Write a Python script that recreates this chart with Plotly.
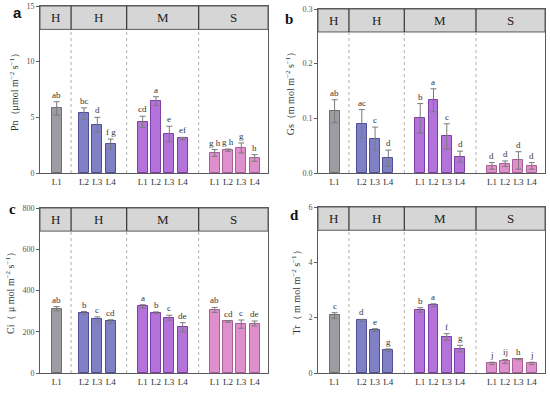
import plotly.graph_objects as go

# ---------------- data ----------------
levels = ["L1", "L2", "L3", "L4", "L1", "L2", "L3", "L4", "L1", "L2", "L3", "L4"]
groups = ["CK", "H", "H", "H", "M", "M", "M", "M", "S", "S", "S", "S"]
header_labels = ["H", "H", "M", "S"]

pn = [5.8, 5.35, 4.35, 2.6, 4.6, 6.45, 3.5, 3.1, 1.8, 2.05, 2.25, 1.35]
pn_err = [0.6, 0.5, 0.65, 0.45, 0.5, 0.4, 0.7, 0.1, 0.3, 0.1, 0.45, 0.3]
pn_sig = ["ab", "bc", "d", "f g", "cd", "a", "e", "ef", "g h", "g h", "g", "h"]

gs = [0.113, 0.090, 0.063, 0.027, 0.100, 0.133, 0.067, 0.030, 0.013, 0.017, 0.023, 0.013]
gs_err = [0.021, 0.026, 0.021, 0.015, 0.027, 0.021, 0.023, 0.010, 0.006, 0.005, 0.016, 0.006]
gs_sig = ["ab", "ac", "c", "d", "b", "a", "c", "d", "d", "d", "d", "d"]

ci = [312, 292, 260, 250, 323, 292, 268, 222, 306, 250, 237, 240]
ci_err = [10, 6, 12, 8, 8, 4, 12, 22, 12, 4, 20, 12]
ci_sig = ["ab", "b", "c", "cd", "a", "b", "c", "de", "ab", "cd", "c", "de"]

tr = [2.08, 1.90, 1.55, 0.82, 2.28, 2.45, 1.30, 0.88, 0.35, 0.42, 0.50, 0.35]
tr_err = [0.10, 0.04, 0.05, 0.05, 0.08, 0.05, 0.12, 0.12, 0.04, 0.07, 0.02, 0.04]
tr_sig = ["c", "d", "e", "g", "b", "a", "f", "g", "j", "ij", "h", "j"]

# ---------------- styling / layout ----------------
fill_col = {"CK": "#9c9ca2", "H": "#7f80c6", "M": "#b373da", "S": "#df90cc"}
line_col = {"CK": "#6e6e72", "H": "#4e4f96", "M": "#7d3fa3", "S": "#a85f97"}

# x positions of bars (layout): groups separated by gaps
pos = []
x = 1.25
gap_after = {0: 2.05, 3: 2.4, 7: 2.4}
for i in range(len(levels)):
    pos.append(x)
    x += gap_after.get(i, 1.0)
X_MAX = 17.1
dividers = [2.33, 6.5, 11.9]
bounds = [0] + dividers + [X_MAX]
HDR = 0.86

panels = [
    dict(v=pn, e=pn_err, s=pn_sig, rng=[0, 15], tv=[0, 5, 10, 15], tt=["0", "5", "10", "15"],
         title="Pn（μmol m<sup>−2</sup> s<sup>−1</sup>）", dx=[40, 268], dy=[6, 173],
         lab="a", lxy=(17, 12), lfont="Liberation Sans"),
    dict(v=gs, e=gs_err, s=gs_sig, rng=[0, 0.3], tv=[0, 0.1, 0.2, 0.3], tt=["0.0", "0.1", "0.2", "0.3"],
         title="Gs（m mol m<sup>−2</sup> s<sup>−1</sup>）", dx=[318, 545], dy=[9, 173],
         lab="b", lxy=(289, 19), lfont="Liberation Serif"),
    dict(v=ci, e=ci_err, s=ci_sig, rng=[0, 800], tv=[0, 200, 400, 600, 800],
         tt=["0", "200", "400", "600", "800"],
         title="Ci（ μ mol m<sup>−2</sup> s<sup>−1</sup>）", dx=[40, 268], dy=[208, 373],
         lab="c", lxy=(12, 209), lfont="Liberation Serif"),
    dict(v=tr, e=tr_err, s=tr_sig, rng=[0, 6], tv=[0, 2, 4, 6], tt=["0", "2", "4", "6"],
         title="Tr（ m mol m<sup>−2</sup> s<sup>−1</sup>）", dx=[318, 545], dy=[207, 373],
         lab="d", lxy=(294, 215), lfont="Liberation Serif"),
]

W, H = 550, 395
SERIF = "Liberation Serif, Times New Roman, serif"
AX = "#5a5a5a"

fig = go.Figure()
annotations = []
shapes = []
layout = {}

for k, p in enumerate(panels):
    n = "" if k == 0 else str(k + 1)
    xa, ya = "x" + n, "y" + n
    fig.add_trace(go.Bar(
        x=pos, y=p["v"], width=0.75,
        marker=dict(color=[fill_col[g] for g in groups],
                    line=dict(color=[line_col[g] for g in groups], width=1)),
        error_y=dict(type="data", array=p["e"], color="#7a7a7a", thickness=1, width=3),
        xaxis=xa, yaxis=ya, showlegend=False, hoverinfo="skip"))
    layout["xaxis" + n] = dict(
        domain=[p["dx"][0] / W, p["dx"][1] / W], range=[0, X_MAX], anchor=ya,
        tickvals=pos, ticktext=levels, ticks="", showgrid=False, zeroline=False,
        showline=True, mirror=True, linecolor=AX, linewidth=1, automargin=False,
        tickfont=dict(family=SERIF, size=9, color="#333"), fixedrange=True)
    layout["yaxis" + n] = dict(
        domain=[1 - p["dy"][1] / H, 1 - p["dy"][0] / H], range=p["rng"], anchor=xa,
        tickvals=p["tv"], ticktext=p["tt"], ticks="outside", ticklen=3, tickcolor=AX,
        showgrid=False, zeroline=False, showline=True, mirror=True, linecolor=AX, linewidth=1,
        automargin=False,
        tickfont=dict(family=SERIF, size=8, color="#555"),
        title=dict(text=p["title"], font=dict(family=SERIF, size=10, color="#333"), standoff=5),
        fixedrange=True)
    # header strip
    shapes.append(dict(type="rect", xref=xa + " domain", yref=ya + " domain",
                       x0=0, x1=1, y0=HDR, y1=1, fillcolor="#d6d6d6",
                       line=dict(color=AX, width=1), layer="below"))
    for d in dividers:
        shapes.append(dict(type="line", xref=xa, yref=ya + " domain", x0=d, x1=d,
                           y0=HDR, y1=1, line=dict(color="#333", width=1.2)))
        shapes.append(dict(type="line", xref=xa, yref=ya + " domain", x0=d, x1=d,
                           y0=0, y1=HDR, line=dict(color="#b0b0b0", width=1, dash="dot")))
    for j, hl in enumerate(header_labels):
        annotations.append(dict(x=(bounds[j] + bounds[j + 1]) / 2, y=(HDR + 1) / 2,
                                xref=xa, yref=ya + " domain", text=hl, showarrow=False,
                                xanchor="center", yanchor="middle",
                                font=dict(family=SERIF, size=13, color="#222")))
    # significance letters
    for xi, v, e, s in zip(pos, p["v"], p["e"], p["s"]):
        annotations.append(dict(x=xi, y=v + e, xref=xa, yref=ya, text=s, showarrow=False,
                                xanchor="center", yanchor="bottom", yshift=0,
                                font=dict(family=SERIF, size=9, color="#333")))
    # panel letter
    annotations.append(dict(x=p["lxy"][0] / W, y=1 - p["lxy"][1] / H, xref="paper", yref="paper",
                            text="<b>%s</b>" % p["lab"], showarrow=False,
                            xanchor="center", yanchor="middle",
                            font=dict(family=p["lfont"], size=15, color="#111")))

fig.update_layout(
    width=W, height=H, margin=dict(l=0, r=0, t=0, b=0, autoexpand=False),
    paper_bgcolor="white", plot_bgcolor="white",
    annotations=annotations, shapes=shapes, bargap=0, **layout)

fig.write_html(
    "out.html",
    config={"displayModeBar": False},
    post_script="document.body.style.margin='0';document.body.style.overflow='hidden';",
)
